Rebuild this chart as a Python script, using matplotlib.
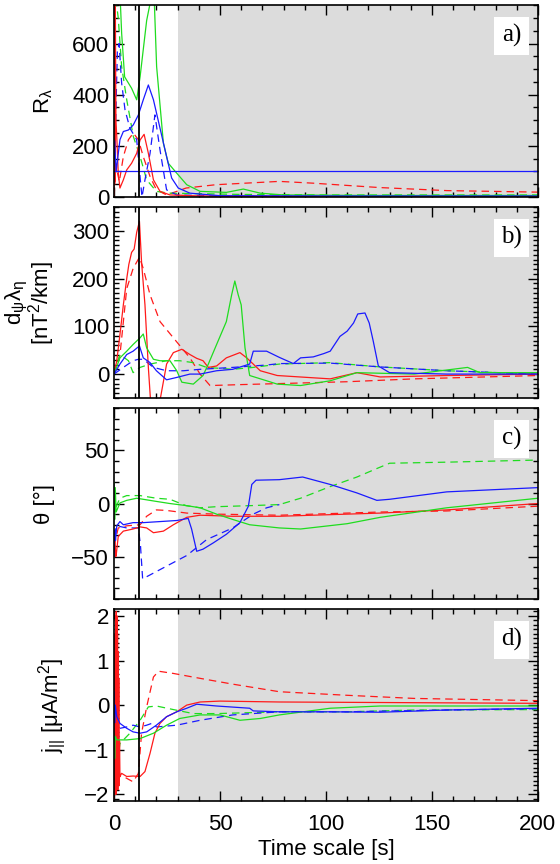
import matplotlib
matplotlib.use("Agg")
import matplotlib.pyplot as plt
from matplotlib.ticker import MultipleLocator

plt.rcParams['font.family'] = ['Liberation Sans', 'DejaVu Sans']
plt.rcParams['mathtext.default'] = 'regular'

# --- panel a) R_lambda ---
a_red_t = [0, 0.2, 0.4, 0.6, 0.9, 1.3, 2.0, 2.8, 4.4, 6.0, 8.3, 10.7, 12.3, 14.2, 16.2, 18.6, 21.7, 26.4, 40, 80, 120, 160, 200]
a_red_v = [0, 780, 60, 780, 300, 236, 93, 35, 67, 106, 132, 171, 223, 245, 171, 67, 22, 8, 4, 3, 3, 3, 3]
a_red_dash_t = [0, 1.0, 2.5, 4.4, 6.8, 9.1, 11.5, 13.8, 17, 20, 24.8, 29.6, 34, 48, 78, 94, 125, 157, 200]
a_red_dash_v = [0, 120, 60, 158, 224, 250, 224, 158, 80, 28, 8, 22, 35, 48, 61, 54, 37, 25, 19]
a_green_t = [0, 0.5, 2.8, 3.6, 5.0, 8.3, 10.7, 12.3, 15.4, 17.8, 18.9, 20.1, 23.3, 25.6, 29.6, 34.3, 40.6, 53, 61, 69, 80, 120, 160, 200]
a_green_v = [800, 800, 800, 640, 470, 425, 380, 470, 690, 790, 790, 510, 210, 132, 93, 48, 22, 18, 31, 15, 8, 6, 6, 6]
a_green_dash_t = [0, 0.5, 2.0, 3.6, 6.0, 9.1, 12.3, 15.4, 20, 26, 60, 100, 150, 200]
a_green_dash_v = [800, 800, 700, 510, 380, 237, 158, 67, 22, 15, 10, 8, 8, 8]
a_blue_t = [0, 0.3, 1.0, 2.8, 4.4, 6.8, 9.1, 11.5, 13.8, 16.2, 18.6, 21.7, 24.8, 27.2, 30.3, 35.8, 50, 100, 150, 200]
a_blue_v = [150, 220, 100, 224, 256, 262, 282, 321, 380, 438, 380, 269, 158, 74, 35, 15, 5, 4, 4, 4]
a_blue_dash_t = [0, 0.5, 1.6, 2.4, 3.6, 5.2, 7.5, 10.7, 12.5, 13.2, 14.6, 17, 19.3, 21.7, 24.8, 29.6, 50, 100, 200]
a_blue_dash_v = [300, 200, 575, 600, 445, 340, 269, 224, 60, 0, 67, 171, 321, 184, 28, 8, 4, 3, 3]
a_blue_flat_t = [0, 200]
a_blue_flat_v = [100, 100]

# --- panel b) d_psi lambda_eta ---
b_red_t = [0, 1.3, 2.8, 4.4, 6.0, 7.0, 8.3, 9.5, 10.7, 12.0, 13.0, 14.6, 16.2, 17.3, 19, 21.7, 24.8, 28, 32, 35.8, 39, 42, 44.5, 48.4, 53, 59.4, 62.6, 69, 77, 102, 114.6, 125.6, 157, 200]
b_red_v = [0, 28, 83, 145, 200, 230, 255, 262, 297, 320, 234, 145, 14, -60, -80, -55, 21, 45, 52, 41, 33, 28, 14, 17, 34, 45, 34, 7, -3, -10, 3, -6, -3, 0]
b_red_dash_t = [0, 2.8, 6.0, 9.0, 12.0, 13.8, 17, 21.7, 28, 35.8, 40.6, 45.3, 60, 77, 110, 141.6, 200]
b_red_dash_v = [0, 40, 179, 221, 245, 221, 166, 110, 76, 34, 0, -24, -22, -20, -16, -10, -3]
b_green_t = [0, 2.8, 6.0, 9.0, 12.3, 13.8, 15.4, 18.6, 21.7, 26.4, 29.6, 32, 37.4, 42, 44.5, 48.4, 53, 55.5, 57, 58.6, 60, 61.8, 64, 72, 77, 88, 102, 114.6, 141.6, 166.8, 172.6, 200]
b_green_v = [0, 34, 48, 62, 76, 84, 55, 31, 28, 28, 7, -17, -21, -3, 21, 62, 110, 166, 195, 166, 145, 55, -3, -14, -21, -24, -14, 3, 0, 14, 3, 3]
b_green_dash_t = [0, 2.8, 6.8, 9.0, 12.3, 17, 24.8, 31, 37.4, 43.7, 56, 65.7, 78, 102, 125.6, 157, 200]
b_green_dash_v = [0, 41, 28, 3, 14, 21, 28, 28, 24, 14, 10, 14, 21, 24, 15, 7, 0]
b_blue_t = [0, 2.8, 6.0, 9.0, 12.0, 13.8, 17, 20, 24.8, 29.6, 35.8, 40.6, 48.4, 56, 64, 65.7, 72, 78, 84.6, 88, 94, 99, 102, 106.6, 110, 113, 115, 118.4, 120.4, 122.3, 124.7, 130, 157, 200]
b_blue_v = [0, 21, 41, 48, 59, 34, 24, 7, -12, -7, 0, 0, 7, 10, 21, 48, 48, 35, 22, 34, 36, 43, 48, 79, 90, 107, 126, 128, 107, 69, 17, 3, 0, 0]
b_blue_dash_t = [0, 4.4, 9.0, 11.5, 13.8, 18.6, 24.8, 32.7, 40.6, 56, 72, 78, 102, 125.6, 157, 200]
b_blue_dash_v = [0, 14, 28, 31, 31, 14, 7, 7, 10, 14, 19, 22, 23, 15, 7, 0]

# --- panel c) theta ---
c_red_t = [0, 0.4, 0.8, 1.0, 2.0, 4.4, 9.0, 12.3, 15.4, 18.6, 23.3, 28, 34.3, 40.6, 56, 78, 125.6, 157, 200]
c_red_v = [-45, -30, -50, -49, -31, -26, -24, -22, -23, -27.5, -26, -20, -13, -11, -12, -12, -9, -6, 0]
c_red_dash_t = [0, 2.0, 6.0, 12.3, 15.4, 20, 24.8, 34.3, 48.4, 78, 125.6, 157, 200]
c_red_dash_v = [-40, -23, -21, -20, -12, -6, -6.5, -9, -10, -11, -8, -7, -2.5]
c_green_t = [0, 0.3, 0.6, 1.0, 2.8, 6.0, 10.7, 13.8, 20, 26.4, 34.3, 40.6, 48.4, 56, 64, 78, 88, 110, 125.6, 157, 200]
c_green_v = [20, -15, 15, -8, 0.6, 3, 5, 4, 2, 0, -2, -4, -10, -15, -20, -23, -24, -19, -13, -4, 5]
c_green_dash_t = [0, 0.5, 2.8, 6.0, 12.3, 20, 26.4, 34, 40.6, 48, 64, 78, 88, 102, 114.6, 124, 130, 157, 200]
c_green_dash_v = [5, -5, 5, 7.5, 7.5, 5, 4, -2, -4, -3, -2, -1, 5, 16, 25, 33, 38, 39, 41]
c_blue_t = [0, 0.3, 0.7, 1.3, 2.8, 4.4, 9.0, 13.8, 21.7, 29.6, 35, 36.6, 39, 42, 46.9, 53, 59.4, 63.4, 65, 67, 78, 89, 102, 114.6, 124, 130, 157, 200]
c_blue_v = [-50, -25, -35, -21, -17, -20, -18, -18, -17, -16, -14, -24, -45, -43, -37, -29, -18, -2.5, 18, 22, 22.5, 25, 18, 10, 3, 4, 11, 15]
c_blue_dash_t = [0, 1.3, 6.0, 11.5, 12.5, 13.5, 24.8, 34.3, 43.7, 56, 65.7, 72, 78]
c_blue_dash_v = [-30, -21, -23, -23, -40, -71, -59, -49, -34, -23, -10, -4, -1]

# --- panel d) j_par ---
d_red_t = [0, 0.15, 0.3, 0.45, 0.6, 0.75, 0.9, 1.05, 1.2, 1.35, 1.5, 1.65, 1.8, 1.95, 2.1, 2.25, 2.4,
           2.6, 2.8, 3.6, 6.0, 9.0, 12.3, 14.6, 17, 19.3, 21.7, 24.8, 29.6, 34.3, 40.6, 50, 78, 200]
d_red_v = [-2.1, 1.0, -2.0, 1.6, -1.9, 2.0, -2.0, 2.1, -1.9, 2.0, -1.8, 1.6, -1.9, 1.2, -1.7, 0.6, -1.8,
           -0.8, -1.6, -1.53, -1.6, -1.59, -1.6, -1.49, -1.08, -0.63, -0.41, -0.26, -0.15, 0, 0.07, 0.09, 0.07, 0.04]
d_red_dash_t = [0, 0.5, 1.0, 2.8, 4.4, 9.0, 11.5, 13.0, 15.4, 18.6, 21, 28, 40.6, 56, 78, 110, 141.6, 200]
d_red_dash_v = [-1.5, -2.0, -1.0, -1.6, -1.6, -1.72, -1.53, -0.63, -0.04, 0.63, 0.76, 0.71, 0.6, 0.47, 0.3, 0.22, 0.15, 0.1]
d_green_t = [0, 0.3, 0.6, 1.3, 6.0, 12.3, 18.6, 24.8, 31, 40.6, 50, 59.4, 69, 78, 102, 125.6, 200]
d_green_v = [-0.6, -1.2, -0.7, -0.78, -0.78, -0.75, -0.63, -0.45, -0.3, -0.22, -0.22, -0.34, -0.3, -0.22, -0.07, -0.02, -0.02]
d_green_dash_t = [0, 0.5, 1.3, 2.8, 7.5, 12.3, 16.2, 20, 28, 37.4, 48.4, 78, 110, 141.6, 200]
d_green_dash_v = [-0.7, -1.4, -1.38, -0.86, -0.63, -0.34, -0.04, -0.02, -0.1, -0.19, -0.19, -0.15, -0.15, -0.11, -0.1]
d_blue_t = [0, 0.3, 0.6, 1.3, 2.8, 6.0, 9.0, 12.3, 15.4, 20, 24.8, 29.6, 34.3, 39, 48.4, 64, 65.7, 78, 102, 125.6, 157, 200]
d_blue_v = [0.3, -0.4, 0.0, -0.26, -0.41, -0.52, -0.6, -0.63, -0.6, -0.45, -0.26, -0.15, -0.07, 0.02, -0.02, -0.07, -0.13, -0.15, -0.15, -0.16, -0.11, -0.07]
d_blue_dash_t = [0, 0.5, 2.8, 6.0, 9.0, 12.3, 15.4, 17.8, 20, 29.6, 40.6, 56, 78, 110, 157, 200]
d_blue_dash_v = [-0.3, -0.45, -0.52, -0.49, -0.45, -0.49, -0.45, -0.41, -0.49, -0.45, -0.34, -0.22, -0.15, -0.15, -0.11, -0.08]

RED, GREEN, BLUE = '#ff1a1a', '#1fdc1f', '#1a1aff'

fig = plt.figure(figsize=(5.6, 8.64), dpi=100)
left, width = 0.2036, 0.757
boxes = [(0.772, 0.222), (0.5394, 0.221), (0.3067, 0.221), (0.0729, 0.222)]
axes = [fig.add_axes([left, b, width, h]) for b, h in boxes]


def solid(ax, t, v, c):
    ax.plot(t, v, color=c, lw=0.9)


def dashed(ax, t, v, c):
    ax.plot(t, v, color=c, lw=0.9, dashes=(6, 4))


ax = axes[0]
dashed(ax, a_red_dash_t, a_red_dash_v, RED)
dashed(ax, a_green_dash_t, a_green_dash_v, GREEN)
dashed(ax, a_blue_dash_t, a_blue_dash_v, BLUE)
solid(ax, a_red_t, a_red_v, RED)
solid(ax, a_green_t, a_green_v, GREEN)
solid(ax, a_blue_t, a_blue_v, BLUE)
solid(ax, a_blue_flat_t, a_blue_flat_v, BLUE)
ax.set_ylim(0, 750)
ax.yaxis.set_major_locator(MultipleLocator(200))
ax.yaxis.set_minor_locator(MultipleLocator(50))
ax.set_ylabel(r'R$_\lambda$', fontsize=16)
ax.yaxis.set_label_coords(-0.14, 0.5)

ax = axes[1]
dashed(ax, b_red_dash_t, b_red_dash_v, RED)
dashed(ax, b_green_dash_t, b_green_dash_v, GREEN)
dashed(ax, b_blue_dash_t, b_blue_dash_v, BLUE)
solid(ax, b_red_t, b_red_v, RED)
solid(ax, b_green_t, b_green_v, GREEN)
solid(ax, b_blue_t, b_blue_v, BLUE)
ax.set_ylim(-50, 350)
ax.yaxis.set_major_locator(MultipleLocator(100))
ax.yaxis.set_minor_locator(MultipleLocator(10))
ax.set_ylabel('d$_\\psi$$\\lambda_\\eta$\n[nT$^2$/km]', fontsize=16, linespacing=0.8)
ax.yaxis.set_label_coords(-0.135, 0.5)

ax = axes[2]
dashed(ax, c_red_dash_t, c_red_dash_v, RED)
dashed(ax, c_green_dash_t, c_green_dash_v, GREEN)
dashed(ax, c_blue_dash_t, c_blue_dash_v, BLUE)
solid(ax, c_red_t, c_red_v, RED)
solid(ax, c_green_t, c_green_v, GREEN)
solid(ax, c_blue_t, c_blue_v, BLUE)
ax.set_ylim(-90, 90)
ax.yaxis.set_major_locator(MultipleLocator(50))
ax.yaxis.set_minor_locator(MultipleLocator(10))
ax.set_ylabel('θ [°]', fontsize=16)
ax.yaxis.set_label_coords(-0.14, 0.5)

ax = axes[3]
dashed(ax, d_red_dash_t, d_red_dash_v, RED)
dashed(ax, d_green_dash_t, d_green_dash_v, GREEN)
dashed(ax, d_blue_dash_t, d_blue_dash_v, BLUE)
solid(ax, d_red_t, d_red_v, RED)
solid(ax, d_green_t, d_green_v, GREEN)
solid(ax, d_blue_t, d_blue_v, BLUE)
ax.set_ylim(-2.15, 2.15)
ax.yaxis.set_major_locator(MultipleLocator(1))
ax.yaxis.set_minor_locator(MultipleLocator(0.1))
ax.set_ylabel(r'j$_{||}$ [μA/m$^2$]', fontsize=16)
ax.yaxis.set_label_coords(-0.108, 0.5)
ax.set_xlabel('Time scale [s]', fontsize=16, labelpad=3)

for i, ax in enumerate(axes):
    ax.set_xlim(0, 200)
    ax.axvspan(30, 200, color='#dcdcdc', lw=0, zorder=0)
    ax.axvline(12, color='black', lw=1.3)
    ax.xaxis.set_major_locator(MultipleLocator(50))
    ax.xaxis.set_minor_locator(MultipleLocator(10))
    ax.tick_params(which='both', direction='in', top=True, right=True, labelsize=16, width=1)
    ax.tick_params(which='major', length=7)
    ax.tick_params(which='minor', length=3.5)
    ax.tick_params(axis='x', which='major', pad=9)
    for s in ax.spines.values():
        s.set_linewidth(1.2)
    if i < 3:
        ax.tick_params(labelbottom=False)
    ax.text(0.9375, 0.84, 'abcd'[i] + ')', transform=ax.transAxes, ha='center', va='center',
            fontsize=18, family='Liberation Serif',
            bbox=dict(boxstyle='square,pad=0.3', facecolor='white', edgecolor='none'))

fig.savefig('out.png', dpi=100)
